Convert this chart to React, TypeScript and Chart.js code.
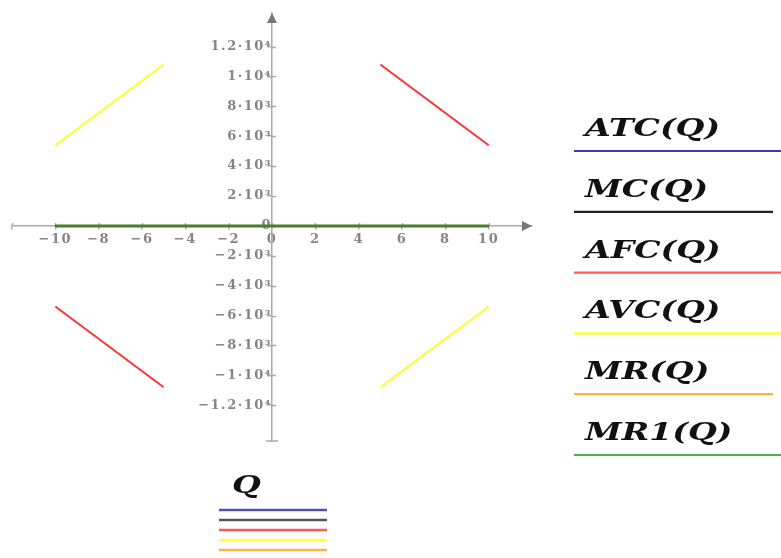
import React, { useEffect, useRef } from 'react';
import { Chart, registerables } from 'chart.js';

Chart.register(...registerables);

// ---------- data ----------
const Q = [-10, -5, 0, 5, 10];
const ATC = [0, 0, null, 0, 0];
const MC = [0, 0, 0, 0, 0];
const AFC = [-5400, -10800, null, 10800, 5400];
const AVC = [5400, 10800, null, -10800, -5400];
const MR = [0, 0, 0, 0, 0];
const MR1 = [0, 0, 0, 0, 0];

const seriesNames = ['ATC(Q)', 'MC(Q)', 'AFC(Q)', 'AVC(Q)', 'MR(Q)', 'MR1(Q)'];
const bottomLegendTitle = 'Q';

const xTickValues = [-12, -10, -8, -6, -4, -2, 0, 2, 4, 6, 8, 10];
const xTickLabels = ['', '−10', '−8', '−6', '−4', '−2', '0', '2', '4', '6', '8', '10'];
const yTickValues = [-12000, -10000, -8000, -6000, -4000, -2000, 0, 2000, 4000, 6000, 8000, 10000, 12000];
const yTickLabels = ['−1.2·10⁴', '−1·10⁴', '−8·10³', '−6·10³', '−4·10³', '−2·10³', '0', '2·10³', '4·10³', '6·10³', '8·10³', '1·10⁴', '1.2·10⁴'];
const xRange = [-12, 12];
const yRange = [-14400, 14250];

// ---------- styles ----------
const plotColors = ['#3f3fa6', '#222222', '#ff3333', '#ffff26', '#ffa833', '#4a7d2c'];
const plotWidths = [2, 2, 2, 2, 2, 3];
const plotOrder = [4, 3, 2, 1, 5, 0];
const legendColors = ['#3c3ca8', '#222222', '#ff5a5a', '#ffff22', '#ffb040', '#4caf50'];
const legendLineEnds = [781, 773, 781, 781, 773, 781];
const bottomLegendColors = ['#5252aa', '#555555', '#ff5555', '#ffff44', '#ffb347'];

const AXIS_COLOR = '#aaaaaa';
const TICK_COLOR = '#858585';
const LABEL_SPACING = '1.5px';

function toPoints(values: (number | null)[]) {
  return Q.map((q, i) => ({ x: q, y: values[i] }));
}

function setSpacing(chart: any, v: string) {
  const ctx = chart.ctx as any;
  if (ctx && 'letterSpacing' in ctx) ctx.letterSpacing = v;
}

const decorPlugin = {
  id: 'decor',
  beforeUpdate(chart: any) {
    setSpacing(chart, LABEL_SPACING);
  },
  beforeLayout(chart: any) {
    setSpacing(chart, LABEL_SPACING);
  },
  beforeDraw(chart: any) {
    setSpacing(chart, LABEL_SPACING);
  },
  beforeDatasetsDraw(chart: any) {
    const { ctx } = chart;
    const xs = chart.scales.x;
    const ys = chart.scales.y;
    const x0 = xs.getPixelForValue(0);
    const y0 = ys.getPixelForValue(0);
    ctx.save();
    ctx.strokeStyle = AXIS_COLOR;
    ctx.lineWidth = 1.5;
    ctx.beginPath();
    xTickValues.forEach((v) => {
      const px = Math.round(xs.getPixelForValue(v)) + 0.5;
      ctx.moveTo(px, y0 - 3);
      ctx.lineTo(px, y0);
    });
    yTickValues.forEach((v) => {
      const py = Math.round(ys.getPixelForValue(v)) + 0.5;
      ctx.moveTo(x0, py);
      ctx.lineTo(x0 + 4, py);
    });
    const yb = ys.getPixelForValue(yRange[0]);
    ctx.moveTo(x0 - 6, yb);
    ctx.lineTo(x0 + 6, yb);
    ctx.stroke();
    ctx.restore();
  },
  afterDraw(chart: any) {
    const { ctx } = chart;
    const xs = chart.scales.x;
    const ys = chart.scales.y;
    const x0 = xs.getPixelForValue(0);
    const y0 = ys.getPixelForValue(0);
    ctx.save();
    setSpacing(chart, '0px');
    // arrows
    ctx.fillStyle = '#777777';
    const yt = ys.getPixelForValue(yRange[1]);
    ctx.beginPath();
    ctx.moveTo(x0, yt);
    ctx.lineTo(x0 - 5, yt + 10);
    ctx.lineTo(x0 + 5, yt + 10);
    ctx.closePath();
    ctx.fill();
    const xr = xs.getPixelForValue(xRange[1]);
    ctx.beginPath();
    ctx.moveTo(xr, y0);
    ctx.lineTo(xr - 10, y0 - 5);
    ctx.lineTo(xr - 10, y0 + 5);
    ctx.closePath();
    ctx.fill();

    // right legend
    const firstLineY = 151;
    const stepY = 60.8;
    ctx.font = 'italic bold 24px "DejaVu Serif"';
    ctx.textBaseline = 'alphabetic';
    ctx.textAlign = 'left';
    seriesNames.forEach((name, i) => {
      const ly = firstLineY + stepY * i;
      ctx.save();
      ctx.translate(585, ly - 15);
      ctx.scale(1.38, 1);
      ctx.fillStyle = '#111111';
      ctx.fillText(name, 0, 0);
      ctx.restore();
      ctx.strokeStyle = legendColors[i];
      ctx.lineWidth = 2.2;
      ctx.beginPath();
      ctx.moveTo(574, ly);
      ctx.lineTo(legendLineEnds[i], ly);
      ctx.stroke();
    });

    // bottom legend
    ctx.save();
    ctx.translate(232, 493);
    ctx.scale(1.38, 1);
    ctx.fillStyle = '#111111';
    ctx.fillText(bottomLegendTitle, 0, 0);
    ctx.restore();
    bottomLegendColors.forEach((c, i) => {
      const ly = 510 + 10 * i;
      ctx.strokeStyle = c;
      ctx.lineWidth = 2.5;
      ctx.beginPath();
      ctx.moveTo(219, ly);
      ctx.lineTo(327, ly);
      ctx.stroke();
    });
    ctx.restore();
  },
};

export default function App() {
  const canvasRef = useRef<HTMLCanvasElement | null>(null);

  useEffect(() => {
    if (!canvasRef.current) return;
    const ctx0 = canvasRef.current.getContext('2d') as any;
    if (ctx0 && 'letterSpacing' in ctx0) ctx0.letterSpacing = LABEL_SPACING;
    const seriesValues = [ATC, MC, AFC, AVC, MR, MR1];
    const chart = new Chart(canvasRef.current, {
      type: 'line',
      data: {
        datasets: seriesValues.map((vals, i) => ({
          label: seriesNames[i],
          data: toPoints(vals),
          borderColor: plotColors[i],
          backgroundColor: plotColors[i],
          borderWidth: plotWidths[i],
          pointRadius: 0,
          pointHoverRadius: 0,
          spanGaps: false,
          tension: 0,
          order: plotOrder[i],
        })),
      },
      options: {
        responsive: false,
        animation: false,
        events: [],
        layout: { padding: { left: 12, right: 249, top: 13, bottom: 117 } },
        plugins: {
          legend: { display: false },
          tooltip: { enabled: false },
          title: { display: false },
        },
        scales: {
          x: {
            type: 'linear',
            min: xRange[0],
            max: xRange[1],
            position: { y: 0 },
            afterBuildTicks: (scale: any) => {
              scale.ticks = xTickValues.map((v) => ({ value: v }));
            },
            ticks: {
              autoSkip: false,
              maxRotation: 0,
              minRotation: 0,
              padding: 3,
              color: TICK_COLOR,
              font: { family: '"DejaVu Serif"', size: 13, weight: 'bold' as const },
              callback: (value: any) => {
                const idx = xTickValues.indexOf(Number(value));
                return idx >= 0 ? xTickLabels[idx] : '';
              },
            },
            grid: {
              display: true,
              drawOnChartArea: false,
              drawTicks: true,
              tickLength: 3,
              color: AXIS_COLOR,
              lineWidth: 1.5,
            },
            border: { display: true, color: AXIS_COLOR, width: 1.5 },
          },
          y: {
            type: 'linear',
            min: yRange[0],
            max: yRange[1],
            position: { x: 0 },
            afterBuildTicks: (scale: any) => {
              scale.ticks = yTickValues.map((v) => ({ value: v }));
            },
            ticks: {
              autoSkip: false,
              padding: 1,
              color: TICK_COLOR,
              font: { family: '"DejaVu Serif"', size: 13, weight: 'bold' as const },
              callback: (value: any) => {
                const idx = yTickValues.indexOf(Number(value));
                return idx >= 0 ? yTickLabels[idx] : '';
              },
            },
            grid: {
              display: true,
              drawOnChartArea: false,
              drawTicks: true,
              tickLength: 4,
              color: AXIS_COLOR,
              lineWidth: 1.5,
            },
            border: { display: true, color: AXIS_COLOR, width: 1.5 },
          },
        },
      },
      plugins: [decorPlugin],
    } as any);
    return () => chart.destroy();
  }, []);

  return (
    <div style={{ position: 'fixed', left: 0, top: 0, width: 781, height: 558, background: '#ffffff' }}>
      <canvas ref={canvasRef} width={781} height={558} style={{ width: 781, height: 558, display: 'block' }} />
    </div>
  );
}
